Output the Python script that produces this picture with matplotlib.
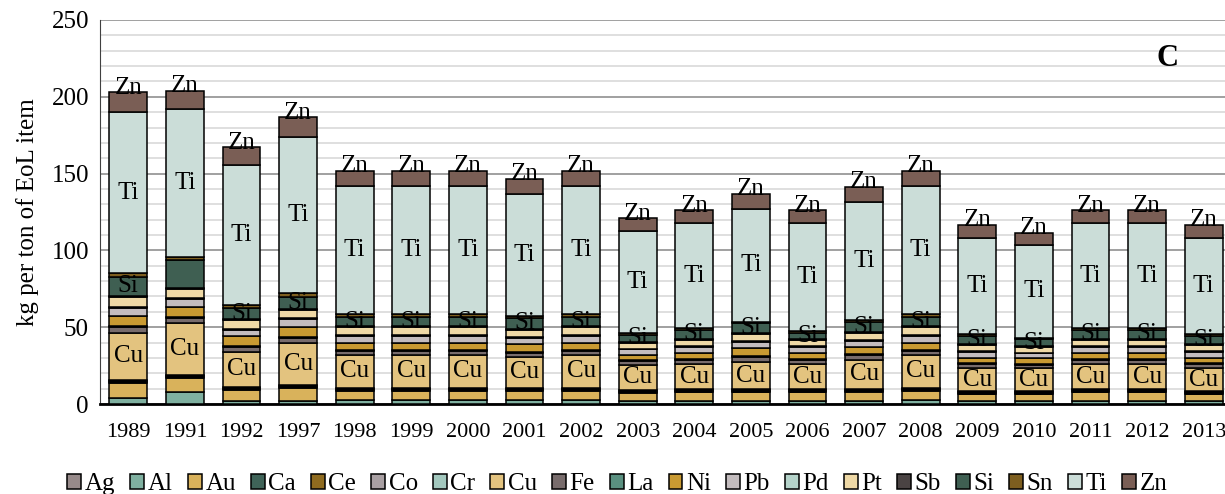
import matplotlib
matplotlib.use('Agg')
import matplotlib.pyplot as plt
import numpy as np

years = ['1989', '1991', '1992', '1997', '1998', '1999', '2000', '2001', '2002', '2003',
         '2004', '2005', '2006', '2007', '2008', '2009', '2010', '2011', '2012', '2013']

# kg per ton of EoL item, stacked bottom -> top in legend order
Ag = [0.3, 0.3, 0.3, 0.3, 0.3, 0.3, 0.3, 0.3, 0.3, 0.3, 0.3, 0.3, 0.3, 0.3, 0.3, 0.3, 0.3, 0.3, 0.3, 0.3]
Al = [3.6, 7.2, 1.5, 1.9, 2.3, 2.3, 2.3, 2.3, 2.3, 1.7, 1.7, 1.7, 1.7, 1.7, 2.3, 1.4, 1.4, 1.7, 1.7, 1.4]
Au = [9.8, 9.4, 7.3, 8.2, 6.1, 6.1, 6.1, 6.1, 6.1, 5.3, 5.6, 5.6, 5.6, 6.0, 6.1, 4.5, 4.5, 5.6, 5.6, 4.5]
Ca = [0.5, 0.5, 0.5, 0.5, 0.5, 0.5, 0.5, 0.5, 0.5, 0.5, 0.5, 0.5, 0.5, 0.5, 0.5, 0.5, 0.5, 0.5, 0.5, 0.5]
Ce = [0.6, 0.6, 0.6, 0.6, 0.6, 0.6, 0.6, 0.6, 0.6, 0.6, 0.6, 0.6, 0.6, 0.6, 0.6, 0.6, 0.6, 0.6, 0.6, 0.6]
Co = [0.4, 0.4, 0.4, 0.4, 0.4, 0.4, 0.4, 0.4, 0.4, 0.4, 0.4, 0.4, 0.4, 0.4, 0.4, 0.4, 0.4, 0.4, 0.4, 0.4]
Cr = [0.5, 0.5, 0.5, 0.5, 0.5, 0.5, 0.5, 0.5, 0.5, 0.5, 0.5, 0.5, 0.5, 0.5, 0.5, 0.5, 0.5, 0.5, 0.5, 0.5]
Cu = [30.5, 33.8, 22.9, 27.3, 21.2, 21.2, 21.2, 20.1, 21.2, 16.1, 16.4, 17.9, 16.4, 18.6, 21.2, 15.0, 15.0, 16.4, 16.4, 15.0]
Fe = [3.8, 3.3, 3.3, 3.3, 2.8, 2.8, 2.8, 2.7, 2.8, 2.8, 2.8, 3.0, 2.8, 3.2, 2.8, 2.8, 2.3, 2.8, 2.8, 2.8]
La = [0.5, 0.5, 0.5, 0.5, 0.5, 0.5, 0.5, 0.5, 0.5, 0.5, 0.5, 0.5, 0.5, 0.5, 0.5, 0.5, 0.5, 0.5, 0.5, 0.5]
Ni = [6.8, 6.7, 6.5, 6.6, 4.8, 4.8, 4.8, 4.9, 4.8, 3.3, 4.1, 5.3, 4.1, 5.0, 4.8, 3.5, 3.7, 4.1, 4.1, 3.5]
Pb = [5.2, 5.2, 3.9, 5.2, 4.3, 4.3, 4.3, 4.1, 4.3, 3.6, 3.9, 4.3, 3.9, 3.9, 4.3, 4.0, 3.3, 3.9, 3.9, 4.0]
Pd = [0.5, 0.5, 0.5, 0.5, 0.5, 0.5, 0.5, 0.5, 0.5, 0.5, 0.5, 0.5, 0.5, 0.5, 0.5, 0.5, 0.5, 0.5, 0.5, 0.5]
Pt = [6.7, 6.1, 6.0, 5.4, 5.2, 5.2, 5.2, 5.0, 5.2, 3.9, 3.9, 4.5, 3.9, 4.3, 5.2, 3.9, 3.5, 3.9, 3.9, 3.9]
Sb = [0.6, 0.6, 0.6, 0.6, 0.6, 0.6, 0.6, 0.6, 0.6, 0.6, 0.6, 0.6, 0.6, 0.6, 0.6, 0.6, 0.6, 0.6, 0.6, 0.6]
Si = [12.4, 18.1, 7.2, 7.9, 6.2, 6.2, 6.2, 6.9, 6.2, 4.4, 5.9, 6.3, 4.2, 7.0, 6.2, 5.4, 4.4, 5.9, 5.9, 5.4]
Sn = [2.6, 1.8, 1.9, 2.6, 1.8, 1.8, 1.8, 1.3, 1.8, 1.5, 1.1, 1.0, 1.3, 1.1, 1.8, 1.0, 1.2, 1.1, 1.1, 1.0]
Ti = [104.7, 96.5, 91.2, 101.7, 83.4, 83.4, 83.4, 79.4, 83.4, 66.1, 68.5, 73.5, 70.0, 76.8, 83.4, 62.6, 60.3, 68.5, 68.5, 62.6]
Zn = [13.0, 12.0, 11.5, 12.6, 9.7, 9.7, 9.7, 9.8, 9.7, 8.4, 8.2, 9.7, 8.2, 9.8, 9.7, 8.5, 7.8, 8.2, 8.2, 8.5]

elements = ['Ag', 'Al', 'Au', 'Ca', 'Ce', 'Co', 'Cr', 'Cu', 'Fe', 'La',
            'Ni', 'Pb', 'Pd', 'Pt', 'Sb', 'Si', 'Sn', 'Ti', 'Zn']
series = [Ag, Al, Au, Ca, Ce, Co, Cr, Cu, Fe, La, Ni, Pb, Pd, Pt, Sb, Si, Sn, Ti, Zn]
colors = ['#978a8a', '#7fb0a0', '#d9b25b', '#3f6358', '#8f6b1f', '#a9a0a3', '#a3c8be',
          '#e3c37f', '#786c6c', '#5a9080', '#c99a32', '#c3bcbe', '#b5d3ca', '#efd9a6',
          '#4a4343', '#3f5f52', '#7d5e1f', '#cbddd8', '#7a5e55']

plt.rcParams['font.family'] = ['Liberation Serif', 'DejaVu Serif']
fs = 18

fig = plt.figure(figsize=(12.25, 4.94), dpi=100)
ax = fig.add_axes([100 / 1225, 90 / 494, 1132 / 1225, 384 / 494])

x = np.arange(len(years))
bottom = np.zeros(len(years))
for name, vals, col in zip(elements, series, colors):
    vals = np.array(vals)
    ax.bar(x, vals, 0.67, bottom=bottom, color=col, edgecolor='black',
           linewidth=1.1, label=name, zorder=3)
    if name in ('Cu', 'Si', 'Ti'):
        for i in x:
            if name == 'Si' and i == 1:
                continue
            ax.text(i, bottom[i] + vals[i] / 2, name, ha='center', va='center',
                    fontsize=fs, zorder=4)
    if name == 'Zn':
        for i in x:
            ax.text(i, bottom[i] + vals[i] + 3, name, ha='center', va='center',
                    fontsize=fs, zorder=4)
    bottom += vals

ax.set_xlim(-0.5, len(years) - 0.5)
ax.set_ylim(0, 250)
ax.set_yticks(np.arange(0, 251, 50))
ax.set_yticks(np.arange(0, 251, 10), minor=True)
ax.grid(axis='y', which='minor', color='#d9d9d9', linewidth=1.2, zorder=0)
ax.grid(axis='y', which='major', color='#a0a0a0', linewidth=1.4, zorder=1)
ax.set_xticks(x)
ax.set_xticklabels(years, fontsize=16)
ax.tick_params(axis='y', which='both', length=0, labelsize=fs, pad=8)
ax.tick_params(axis='x', length=0, pad=14)
for s in ('top', 'right'):
    ax.spines[s].set_visible(False)
ax.spines['left'].set_color('#404040')
ax.spines['bottom'].set_linewidth(2)
ax.set_ylabel('kg per ton of EoL item', fontsize=fs, labelpad=9)

ax.text(0.943, 225, 'C', transform=ax.get_yaxis_transform(),
        fontsize=22, fontweight='bold', ha='center', va='center')

fig.legend(loc='center', bbox_to_anchor=(0.504, 0.02), ncol=19, frameon=False,
           fontsize=fs, handlelength=0.55, handleheight=0.55, handletextpad=0.15,
           columnspacing=0.6, borderaxespad=0)

fig.savefig('out.png', dpi=100)
